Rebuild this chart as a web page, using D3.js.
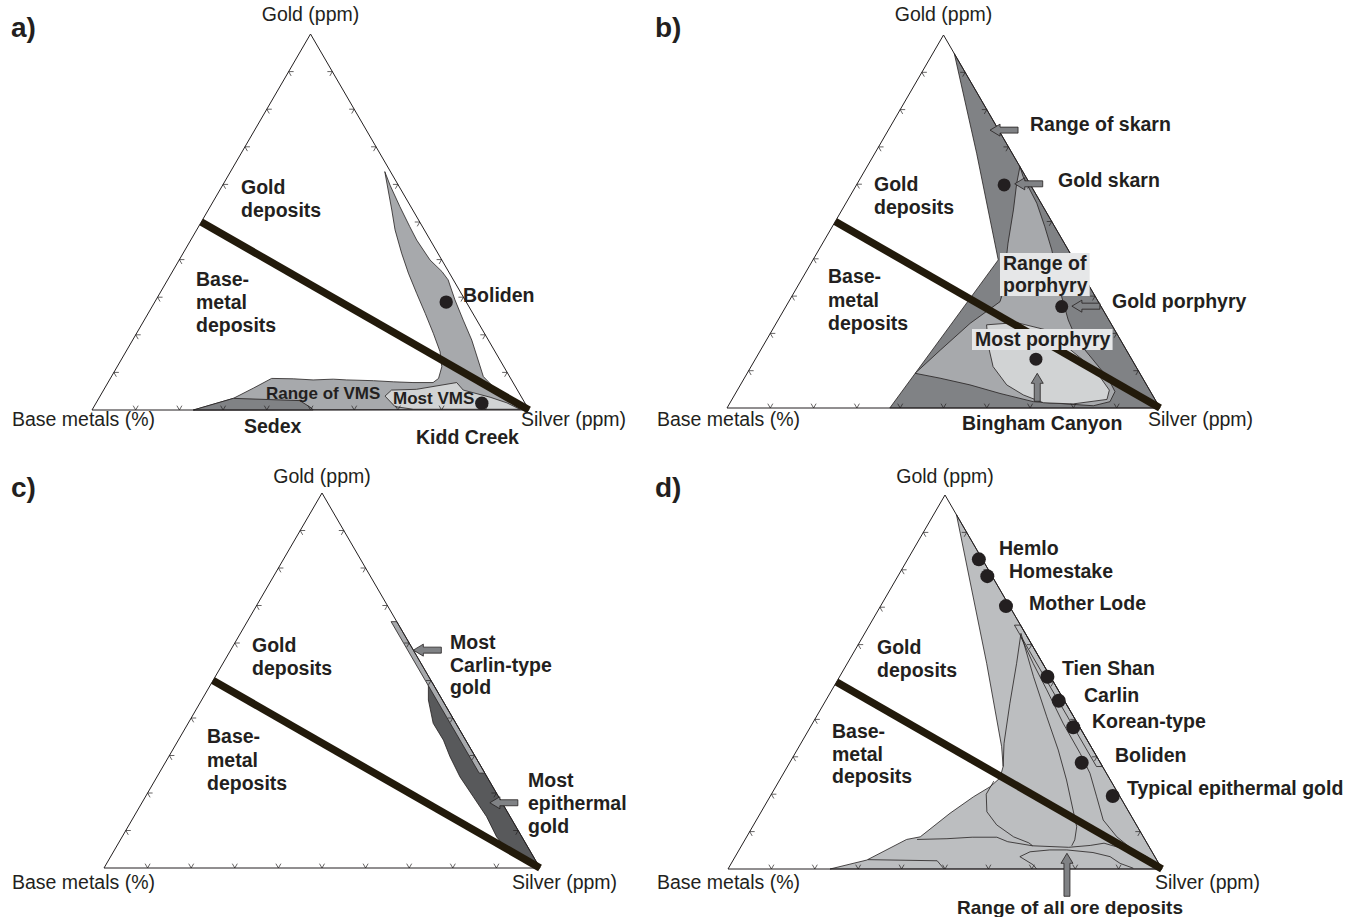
<!DOCTYPE html>
<html><head><meta charset="utf-8">
<script src="https://cdn.jsdelivr.net/npm/d3@7"></script>
<style>
body{margin:0;background:#fff;}
svg{display:block;font-family:"Liberation Sans",Arial,Helvetica,sans-serif;}
</style></head><body>
<svg id="chart" width="1359" height="917"></svg>
<script>
// ===== DATA: ternary compositions written as [gold %, base metals %]; silver % = 100 - gold - base =====
const axisTop = "Gold (ppm)";
const axisLeft = "Base metals (%)";
const axisRight = "Silver (ppm)";
const panelLetters = ["a)", "b)", "c)", "d)"];
const tickValues = [10, 20, 30, 40, 50, 60, 70, 80, 90];
const dividingLine = [[50, 50], [0, 0]];

// panel a
const aVmsBolidenRange = [[63.4,1.3],[59.8,1.9],[54.1,2.5],[48.8,2.9],[45.2,3.1],[39.9,2.7],[36.8,1.5],[34.6,1.2],[29.3,2.3],[23.9,3.1],[18.6,3.8],[13.3,5.0],[8.9,6.0],[6.2,5.1],[4.0,3.1],[1.8,1.9],[0.2,1.2],
  [0,76.8],[3.1,66.1],[5.8,60.2],[8.4,54.7],[8.3,49.8],[8.0,45.4],[8.2,40.7],[8.0,37.7],[7.8,31.7],[7.5,27.3],[7.3,22.9],[7.3,18.3],[8.4,16.5],[11.5,14.2],[15.5,12.6],[20.4,11.7],[25.7,10.9],[31.0,10.2],[36.4,9.4],[41.7,8.3],[47.9,6.7],[53.2,4.8]];
const aSedex = [[0,76.8],[3.1,66.1],[2.5,51.2],[0.5,49.5],[0,49.4]];
const aMostVms = [[5.3,28.8],[5.5,23.0],[7.3,12.9],[5.3,12.4],[3.4,7.2],[1.9,4.1],[0.2,2.0],[0.2,26.4],[0.9,30.2],[3.7,31.1]];
const aDotNames = ["Boliden", "Kidd Creek"];
const aDotValues = [[28.7,4.6],[1.8,9.9]];
const aLabels = [["Gold","deposits"],["Base-","metal","deposits"],["Boliden"],["Range of VMS"],["Most VMS"],["Sedex"],["Kidd Creek"]];

// panel b
const bSkarnRange = [[95,0],[68.3,8.2],[39.7,17.5],[0,62.4],[0,0]];
const bPorphyryRange = [[64.7,0],[62.0,0.6],[54.9,1.0],[48.6,2.3],[42.4,3.8],[36.1,5.8],[29.8,7.8],[23.6,9.4],[18.2,10.1],[12.9,9.0],[8.0,8.0],[4.4,8.2],[1.7,10.7],[0.6,15.1],[1.7,28.4],[3.9,35.0],[6.2,40.8],[8.0,46.8],[9.3,51.9],[15.5,43.0],[22.7,32.5],[28.5,22.7],[30.7,21.0],[37.0,17.3],[44.2,13.0],[53.1,7.3],[60.2,3.0]];
const bMostPorphyry = [[22.3,28.9],[22.9,21.7],[20.9,15.7],[16.4,13.3],[12.0,10.9],[8.4,9.7],[4.8,9.3],[2.3,11.1],[1.1,19.5],[1.4,26.2],[3.5,29.8],[6.2,32.3],[11.1,33.0],[16.4,31.4]];
const bDotNames = ["Gold skarn", "Gold porphyry", "Bingham Canyon"];
const bDotValues = [[59.8,6.1],[27.2,9.1],[13.1,22.1]];
const bArrowTips = [[74.5,2.0],[60.1,3.5],[27.3,6.7],[9.3,23.7]];
const bLabels = [["Gold","deposits"],["Base-","metal","deposits"],["Range of skarn"],["Gold skarn"],["Gold porphyry"],["Bingham Canyon"]];
const bBoxedLabels = [["Range of","porphyry"],["Most porphyry"]];

// panel c
const cCarlin = [[65.7,0],[25.3,0],[25.3,1.3],[65.7,1.3]];
const cEpithermal = [[49.5,0],[48.8,1.2],[44.8,3.2],[38.6,5.2],[34.1,5.1],[29.7,5.8],[24.3,6.2],[19.0,5.8],[13.7,5.4],[8.3,5.8],[3.9,4.9],[2.1,2.0],[0,0]];
const cArrowTips = [[58.1,0],[17.4,2.8]];
const cLabels = [["Gold","deposits"],["Base-","metal","deposits"],["Most","Carlin-type","gold"],["Most","epithermal","gold"]];

// panel d
const dAllDeposits = [[94.7,0],[0,0],[0,76.5],[2.4,66.8],[7.9,54.9],[8.6,51.4],[14.9,41.4],[19.3,33.8],[22.0,28.6],[24.3,25.2],[27.4,22.9],[32.7,20.6],[55.0,12.9]];
const dCarlinStrip = [[65.2,0],[27.4,0],[27.4,1.4],[65.2,1.4]];
const dInnerLines = [
  [[63,1],[55,6],[44.3,12.9],[33.6,19.6],[27.4,22.9]],
  [[63,1],[51.4,3.9],[40.7,6.2],[31.8,8.0],[23.8,10.1],[15.8,12.6],[11.3,14.0],[7.8,16.2],[6.2,17.7]],
  [[62,1.5],[55,2.2],[47.9,2.6],[39,3.3],[30.9,3.4],[25.6,3.8],[19.3,5.4],[13.1,7.0],[8.6,6.1],[5.1,4.1],[3.3,1.9],[1.5,0.5]],
  [[23.5,27.0],[20.0,30.5],[15.3,32.7],[11.8,32.2],[8.6,29.9],[7.0,27.2],[6.2,26.7]],
  [[7.9,52.5],[8.1,45.5],[8.5,39.5],[8.5,33.8],[7.3,31.9],[6.2,26.7],[5.8,18.6],[6.3,13.4],[6.9,9.9],[5.5,6.4],[2.9,2.8],[1.1,1.2]],
  [[2.5,66.5],[2.2,50.7],[0,50.2]],
  [[0,28.9],[1.1,29.1],[3.3,31.1],[4.6,28.1],[5.1,23.3],[5.1,19.4],[4.4,13.7],[3.3,10.3],[1.5,8.9],[0.2,6.5]]
];
const dDotNames = ["Hemlo","Homestake","Mother Lode","Tien Shan","Carlin","Korean-type","Boliden","Typical epithermal gold"];
const dDotValues = [[82.8,0.8],[78.3,1.1],[70.3,0.8],[51.4,0.7],[45.0,1.3],[37.9,1.5],[28.4,4.3],[19.5,1.6]];
const dArrowTips = [[4.2,19.8]];
const dLabels = [["Gold","deposits"],["Base-","metal","deposits"],["Range of all ore deposits"]];

// ===== LAYOUT =====
const ink = "#231f20";
const svg = d3.select("#chart");
const panelBoxes = [
  {L:92, R:529, B:410, T:34},
  {L:727, R:1160, B:408, T:35},
  {L:104, R:540, B:868, T:493},
  {L:728, R:1162, B:869, T:495}
];
const letterPos = [[11,37],[655,37],[11,497],[655,497]];
const topLabelY = [21, 21, 483, 483];
const bottomLabelY = [426, 426, 889, 889];
const leftLabelX = [12, 657, 12, 657];
const rightLabelX = [521, 1148, 512, 1155];

function projector(box){
  const x = d3.scaleLinear().domain([0,100]).range([box.L, box.R]);
  const y = d3.scaleLinear().domain([0,100]).range([box.B, box.T]);
  return v => { const g = v[0], b = v[1], s = 100 - g - b; return [x(s + g/2), y(g)]; };
}
const line = d3.line();

function multiText(g, lines, x, y, lh, size, weight, anchor){
  const t = g.append("text").attr("x", x).attr("y", y).attr("font-size", size)
    .attr("font-weight", weight || "bold").attr("fill", ink).attr("text-anchor", anchor || "start");
  lines.forEach((s, i) => t.append("tspan").attr("x", x).attr("y", y + i*lh).text(s));
  return t;
}

function arrow(g, tip, dir, len){
  const hl = 10, hw = 6, sw = 3;
  const px = -dir[1], py = dir[0];
  const loc = [[0,0],[hl,hw],[hl,sw],[len,sw],[len,-sw],[hl,-sw],[hl,-hw]];
  const pts = loc.map(([t,n]) => [tip[0] + t*dir[0] + n*px, tip[1] + t*dir[1] + n*py]);
  g.append("path").attr("d", line(pts) + "Z").attr("fill", "#808285").attr("stroke", ink).attr("stroke-width", 0.8);
}

function frame(g, P){
  g.append("path").attr("d", line([[100,0],[0,100],[0,0]].map(P)) + "Z")
    .attr("fill","none").attr("stroke", ink).attr("stroke-width", 1);
  const len = 5, c = Math.cos(Math.PI/3), s = Math.sin(Math.PI/3);
  const ticks = [];
  tickValues.forEach(t => {
    const pb = P([0, t]);            // bottom edge
    ticks.push([[pb[0]-c*len, pb[1]-s*len], pb, [pb[0]+c*len, pb[1]-s*len]]);
    const pl = P([t, 100 - t]);      // left edge
    ticks.push([[pl[0]+len, pl[1]], pl, [pl[0]+c*len, pl[1]+s*len]]);
    const pr = P([t, 0]);            // right edge
    ticks.push([[pr[0]-len, pr[1]], pr, [pr[0]-c*len, pr[1]+s*len]]);
  });
  g.selectAll(null).data(ticks).enter().append("path").attr("d", d => line(d))
    .attr("fill","none").attr("stroke", ink).attr("stroke-width", 0.7);
}

function axisText(g, i, P){
  const top = P([100,0]);
  g.append("text").attr("x", top[0]).attr("y", topLabelY[i]).attr("text-anchor","middle")
    .attr("font-size", 19.5).attr("fill", ink).text(axisTop);
  g.append("text").attr("x", leftLabelX[i]).attr("y", bottomLabelY[i])
    .attr("font-size", 19.5).attr("fill", ink).text(axisLeft);
  g.append("text").attr("x", rightLabelX[i]).attr("y", bottomLabelY[i])
    .attr("font-size", 19.5).attr("fill", ink).text(axisRight);
  g.append("text").attr("x", letterPos[i][0]).attr("y", letterPos[i][1])
    .attr("font-size", 28).attr("font-weight","bold").attr("fill", ink).text(panelLetters[i]);
}

function poly(g, P, data, fill){
  g.append("path").attr("d", line(data.map(P)) + "Z").attr("fill", fill)
    .attr("stroke", ink).attr("stroke-width", 0.8).attr("stroke-linejoin","round");
}
function divider(g, P){
  g.append("path").attr("d", line(dividingLine.map(P))).attr("fill","none")
    .attr("stroke", "#221a0b").attr("stroke-width", 7.5);
}
function dots(g, P, values, r){
  g.selectAll(null).data(values).enter().append("circle")
    .attr("cx", d => P(d)[0]).attr("cy", d => P(d)[1]).attr("r", r).attr("fill", ink);
}

// ---------- Panel a ----------
(function(){
  const i = 0, P = projector(panelBoxes[i]);
  const g = svg.append("g");
  poly(g, P, aVmsBolidenRange, "#a7a9ac");
  poly(g, P, aSedex, "#808285");
  poly(g, P, aMostVms, "#d1d3d4");
  frame(g, P);
  divider(g, P);
  dots(g, P, aDotValues, 6.7);
  axisText(g, i, P);
  const pos = [[241,194,23,19.5],[196,286,23,19.5],[463,302,0,19.5],[266,399,0,17],[393,404,0,17],[244,433,0,19.5],[416,444,0,19.5]];
  aLabels.forEach((l, k) => multiText(g, l, pos[k][0], pos[k][1], pos[k][2], pos[k][3]));
})();

// ---------- Panel b ----------
(function(){
  const i = 1, P = projector(panelBoxes[i]);
  const g = svg.append("g");
  poly(g, P, bSkarnRange, "#808285");
  poly(g, P, bPorphyryRange, "#a7a9ac");
  poly(g, P, bMostPorphyry, "#d1d3d4");
  frame(g, P);
  divider(g, P);
  const boxPos = [[1003,270,22],[975,346,0]];
  bBoxedLabels.forEach((l, k) => {
    const bg = g.append("rect").attr("fill", "#e6e7e8");
    const t = multiText(g, l, boxPos[k][0], boxPos[k][1], boxPos[k][2], 19.5);
    const bb = t.node().getBBox();
    bg.attr("x", bb.x - 3).attr("y", bb.y + 1).attr("width", bb.width + 5).attr("height", bb.height - 1);
  });
  dots(g, P, bDotValues, 6.5);
  const dirs = [[1,0],[1,0],[1,0],[0,1]];
  bArrowTips.forEach((t, k) => arrow(g, P(t), dirs[k], 28));
  axisText(g, i, P);
  const pos = [[874,191,23],[828,283,23.5],[1030,131,0],[1058,187,0],[1112,308,0],[962,430,0]];
  bLabels.forEach((l, k) => multiText(g, l, pos[k][0], pos[k][1], pos[k][2], 19.5));
})();

// ---------- Panel c ----------
(function(){
  const i = 2, P = projector(panelBoxes[i]);
  const g = svg.append("g");
  poly(g, P, cEpithermal, "#58595b");
  poly(g, P, cCarlin, "#a7a9ac");
  frame(g, P);
  divider(g, P);
  cArrowTips.forEach(t => arrow(g, P(t), [1,0], 28));
  axisText(g, i, P);
  const pos = [[252,652,23],[207,743,23.5],[450,649,22.5],[528,787,23]];
  cLabels.forEach((l, k) => multiText(g, l, pos[k][0], pos[k][1], pos[k][2], 19.5));
})();

// ---------- Panel d ----------
(function(){
  const i = 3, P = projector(panelBoxes[i]);
  const g = svg.append("g");
  poly(g, P, dAllDeposits, "#bcbec0");
  dInnerLines.forEach(l => g.append("path").attr("d", line(l.map(P))).attr("fill","none")
    .attr("stroke", ink).attr("stroke-width", 0.8));
  poly(g, P, dCarlinStrip, "none");
  frame(g, P);
  divider(g, P);
  dots(g, P, dDotValues, 7);
  dArrowTips.forEach(t => arrow(g, P(t), [0,1], 43));
  axisText(g, i, P);
  const namePos = [[999,555],[1009,578],[1029,610],[1062,675],[1084,702],[1092,728],[1115,762],[1127,795]];
  dDotNames.forEach((n, k) => multiText(g, [n], namePos[k][0], namePos[k][1], 0, 19.5));
  const pos = [[877,654,23,"start",19.5],[832,738,22.5,"start",19.5],[1070,914,0,"middle",19]];
  dLabels.forEach((l, k) => multiText(g, l, pos[k][0], pos[k][1], pos[k][2], pos[k][4], "bold", pos[k][3]));
})();
</script>
</body></html>
